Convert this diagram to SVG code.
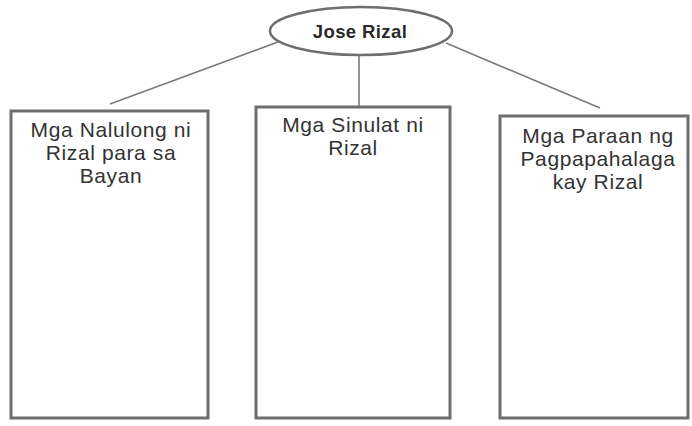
<svg xmlns="http://www.w3.org/2000/svg" width="692" height="426" viewBox="0 0 692 426">
<style>
.box{fill:#fff;stroke:#6e6e6e;stroke-width:3}
.lbl{font-family:"Liberation Sans",Arial,sans-serif;font-size:21px;letter-spacing:0.6px;fill:#333;text-anchor:middle}
.conn{stroke:#7a7a7a;stroke-width:1.6;fill:none}
</style>
<rect width="692" height="426" fill="#fff"/>
<g id="connectors">
<line class="conn" x1="278" y1="42" x2="110" y2="104"/>
<line class="conn" x1="359" y1="55" x2="359" y2="107"/>
<line class="conn" x1="446" y1="43" x2="600" y2="108"/>
</g>
<g id="root">
<ellipse cx="361" cy="31" rx="91" ry="24" fill="#fff" stroke="#6e6e6e" stroke-width="2.5"/>
<text x="360" y="38" font-family="Liberation Sans,Arial,sans-serif" font-size="18.5" font-weight="bold" fill="#2a2a2a" text-anchor="middle" letter-spacing="0.4">Jose Rizal</text>
</g>
<g id="box1">
<rect class="box" x="11" y="111" width="197" height="307"/>
<text class="lbl" x="111" y="137">Mga Nalulong ni</text>
<text class="lbl" x="111" y="160">Rizal para sa</text>
<text class="lbl" x="111" y="183">Bayan</text>
</g>
<g id="box2">
<rect class="box" x="256" y="107" width="194" height="311"/>
<text class="lbl" x="353" y="132">Mga Sinulat ni</text>
<text class="lbl" x="353" y="155">Rizal</text>
</g>
<g id="box3">
<rect class="box" x="500" y="116" width="188" height="302"/>
<text class="lbl" x="598" y="143">Mga Paraan ng</text>
<text class="lbl" x="598" y="166">Pagpapahalaga</text>
<text class="lbl" x="598" y="189">kay Rizal</text>
</g>
</svg>
